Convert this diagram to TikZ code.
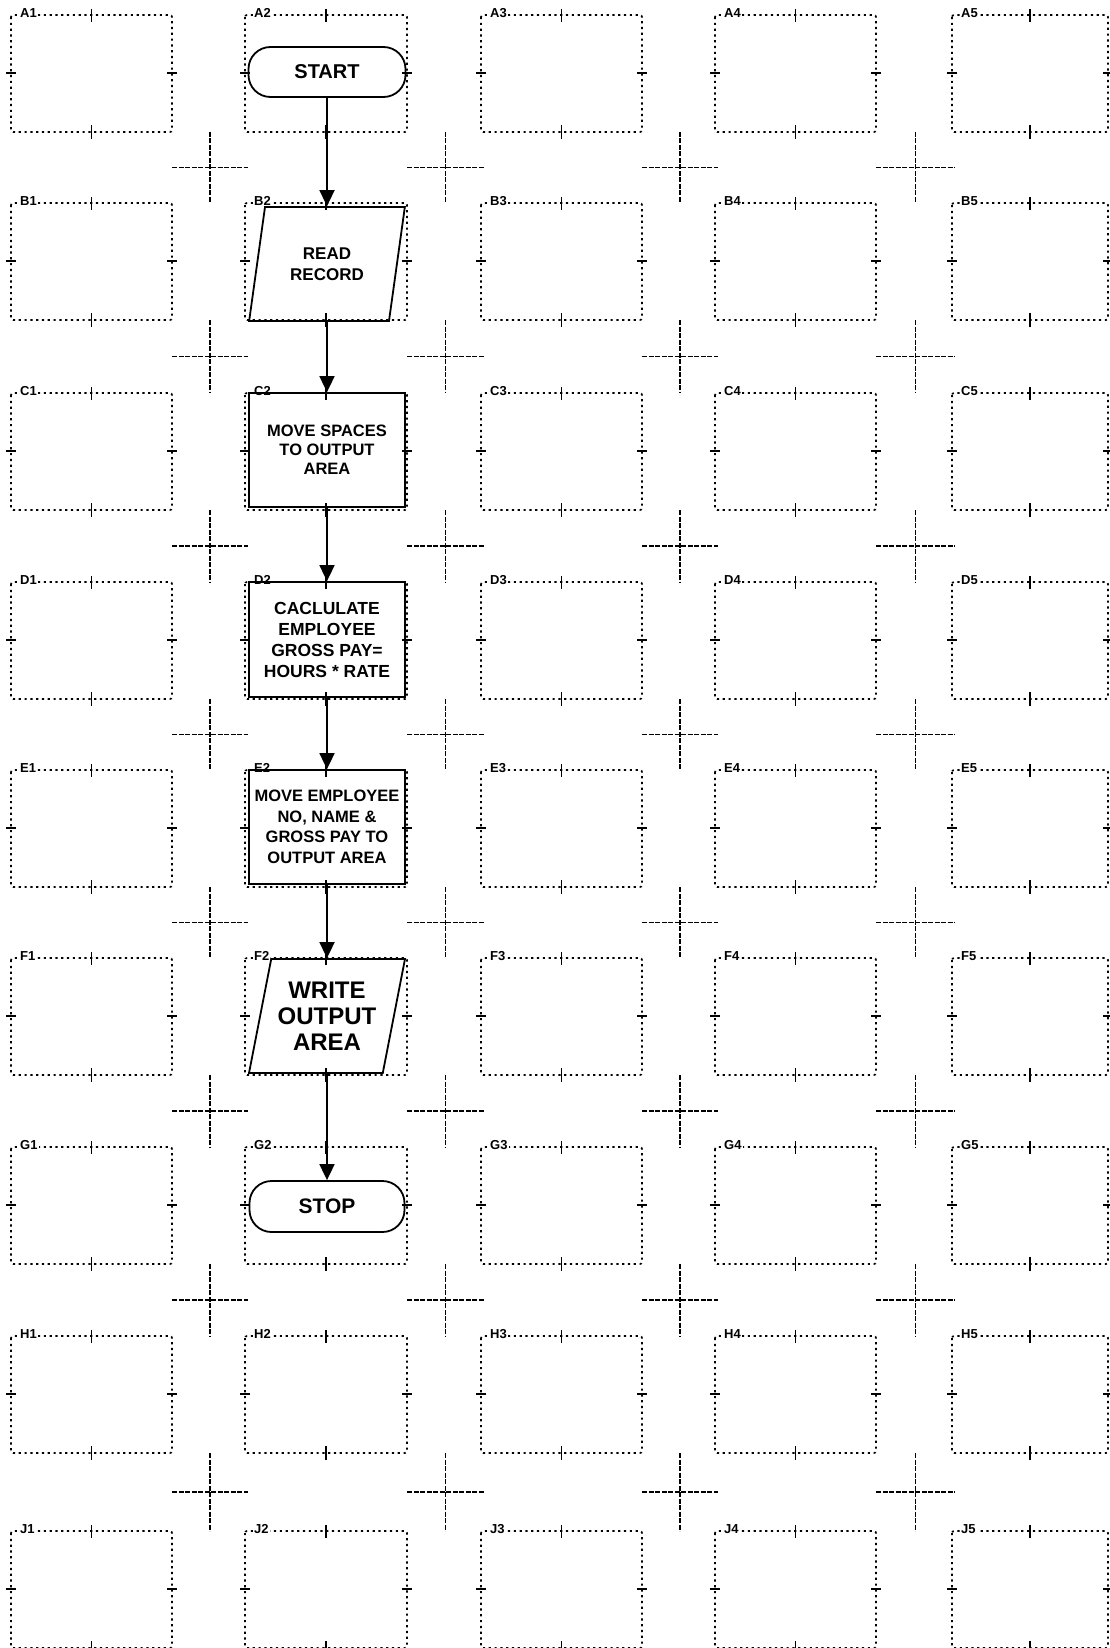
\documentclass[tikz,border=0pt]{standalone}
\usepackage{fontspec}
\setmainfont{Liberation Sans}
\usetikzlibrary{arrows.meta,shapes.geometric}
\begin{document}
\begin{tikzpicture}[x=1pt,y=-1pt,
  gridbox/.style={line width=1.7pt, dash pattern=on 2.2pt off 3.6pt, rounded corners=2pt},
  tickline/.style={line width=1.6pt},
  crossline/.style={line width=1.5pt, dash pattern=on 5pt off 1.5pt},
  cell/.style={fill=white, inner sep=1pt, anchor=west, font=\fontsize{13}{13}\selectfont\bfseries},
  flow/.style={draw, line width=1.8pt, align=center, inner sep=0pt},
  term/.style={flow, rectangle, rounded corners=22pt, minimum height=50pt},
  io/.style={flow, trapezium, trapezium left angle=74, trapezium right angle=106,
             trapezium stretches=true, minimum width=156pt, minimum height=114pt},
  proc/.style={flow, rectangle, minimum width=156pt, minimum height=114pt},
  link/.style={line width=1.8pt, -{Triangle[length=16pt,width=15pt]}}
]
\useasboundingbox (0,0) rectangle (1109,1648);

% grid of cells
\foreach \r/\ty in {A/15,B/203,C/393,D/582,E/770,F/958,G/1147,H/1336,J/1531} {
  \foreach \lx/\w [count=\j] in {11/161,245/162,481/161,715/161,952/156} {
    \draw[gridbox] (\lx,\ty) rectangle ++(\w,117);
    \draw[tickline] (\lx+\w/2,\ty-6) -- ++(0,13);
    \draw[tickline] (\lx+\w/2,\ty+110) -- ++(0,14);
    \draw[tickline] (\lx-5,\ty+58) -- ++(10,0);
    \draw[tickline] (\lx+\w-5,\ty+58) -- ++(10,0);
    \node[cell] (\r\j) at (\lx+8,\ty-2) {\r\j};
  }
}

% crosses between cells
\foreach \xa/\xb in {172/248,407/484,642/718,876/955} {
  \foreach \ya/\yb in {132/203,320/393,510/582,699/770,887/958,1075/1147,1264/1336,1453/1531} {
    \draw[crossline] (\xa,{(\ya+\yb)/2}) -- (\xb,{(\ya+\yb)/2});
    \draw[crossline] ({(\xa+\xb)/2},\ya) -- ({(\xa+\xb)/2},\yb);
  }
}

% flowchart
\node[term, minimum width=157pt, font=\fontsize{20}{20}\selectfont\bfseries] (start) at (327,72) {START};
\node[io, font=\fontsize{17}{21}\selectfont\bfseries] (read) at (327,264) {READ\\RECORD};
\node[proc, font=\fontsize{16.5}{19}\selectfont\bfseries] (spaces) at (327,450) {MOVE SPACES\\TO OUTPUT\\AREA};
\node[proc, minimum height=115pt, font=\fontsize{17.5}{21}\selectfont\bfseries] (calc) at (327,639.5) {CACLULATE\\EMPLOYEE\\GROSS PAY=\\HOURS * RATE};
\node[proc, font=\fontsize{16.5}{20.5}\selectfont\bfseries] (move) at (327,827) {MOVE EMPLOYEE\\NO, NAME \&\\GROSS PAY TO\\OUTPUT AREA};
\node[io, font=\fontsize{24}{26}\selectfont\bfseries] (write) at (327,1016) {WRITE\\OUTPUT\\AREA};
\node[term, minimum width=155pt, minimum height=51pt, font=\fontsize{21}{21}\selectfont\bfseries] (stop) at (327,1206.5) {STOP};

\draw[link] (start.south) -- (read.north);
\draw[link] (read.south) -- (spaces.north);
\draw[link] (spaces.south) -- (calc.north);
\draw[link] (calc.south) -- (move.north);
\draw[link] (move.south) -- (write.north);
\draw[link] (write.south) -- (stop.north);
\end{tikzpicture}
\end{document}
